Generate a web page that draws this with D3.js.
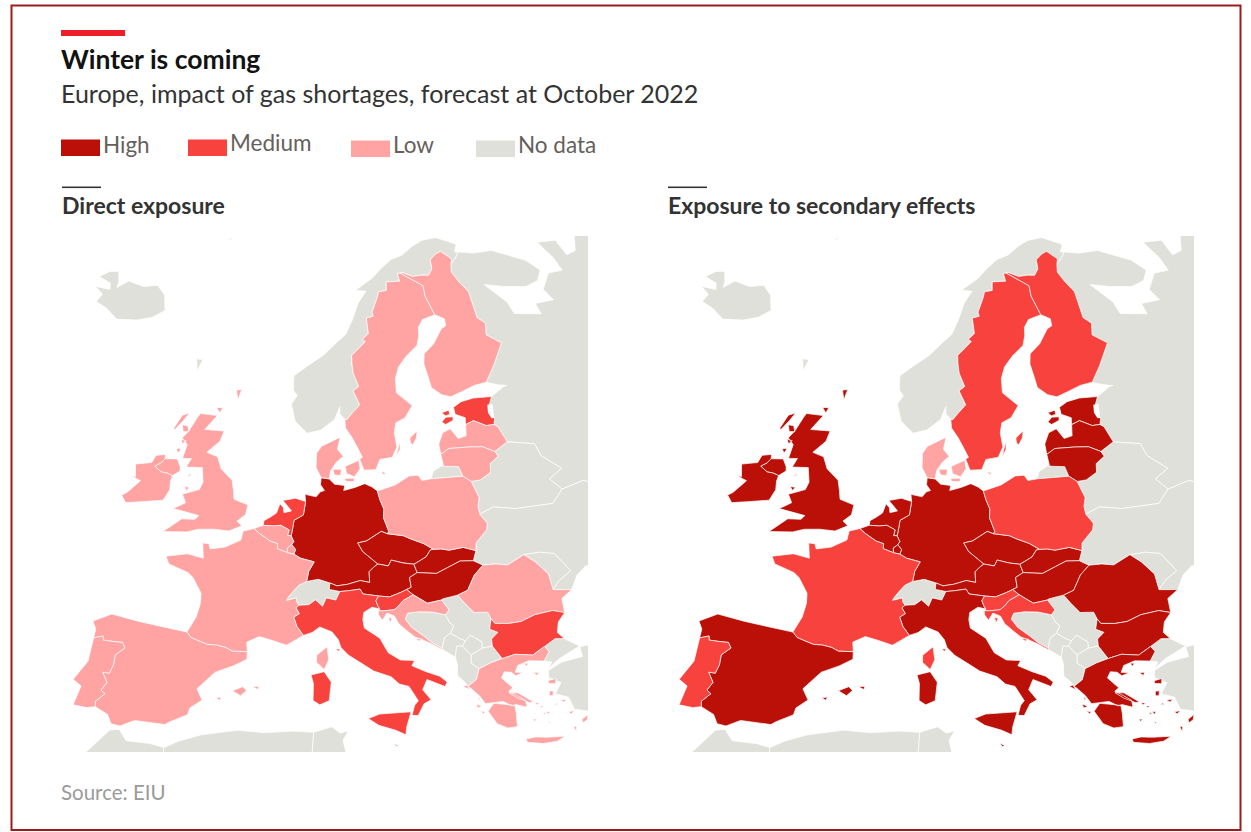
<!DOCTYPE html>
<html>
<head>
<meta charset="utf-8">
<script src="https://cdn.jsdelivr.net/npm/d3@7"></script>
<style>
  html, body { margin: 0; padding: 0; background: #fff; }
  svg { display: block; font-family: Lato, sans-serif; }
  .land { stroke: #fff; stroke-width: 0.7; stroke-linejoin: round; vector-effect: non-scaling-stroke; }
</style>
</head>
<body>
<svg id="chart" width="1251" height="832"></svg>
<script>
// ---- chart values ----
var levelNames = ["High", "Medium", "Low", "No data"];
var levelColors = ["#bb1007", "#f8423d", "#ffa3a3", "#e0e0da"];
var panelTitles = ["Direct exposure", "Exposure to secondary effects"];

var countries = ["Germany", "Czechia", "Austria", "Slovakia", "Hungary", "Netherlands", "Belgium", "Luxembourg", "Italy", "Slovenia", "Croatia", "Estonia", "Latvia", "Lithuania", "Poland", "Romania", "Bulgaria", "Greece", "France", "Spain", "Portugal", "United Kingdom", "Ireland", "Denmark", "Sweden", "Finland", "Malta"];
var directLevels = ["High", "High", "High", "High", "High", "Medium", "Low", "Low", "Medium", "Medium", "Low", "Medium", "Low", "Low", "Low", "Low", "Medium", "Low", "Low", "Low", "Low", "Low", "Low", "Low", "Low", "Low", "Low"];
var secondaryLevels = ["High", "High", "High", "High", "High", "High", "High", "High", "High", "Medium", "Medium", "High", "High", "High", "Medium", "High", "High", "High", "Medium", "High", "Medium", "High", "High", "Low", "Medium", "Medium", "High"];

// ---- shared land borders, lon/lat ----
var FR_ES = [[-1.78,43.37],[-1.38,43.03],[-0.7,42.85],[0,42.68],[0.7,42.7],[1.45,42.6],[2,42.38],[3.17,42.43]];
var ES_PT = [[-8.87,41.87],[-8.2,42.13],[-8.1,41.85],[-7.2,41.9],[-6.6,41.95],[-6.3,41.6],[-6.9,41],[-6.85,40.3],[-7,39.67],[-7.5,39.65],[-7,39],[-7.3,38.4],[-6.95,38.2],[-7.5,37.55],[-7.4,37.18]];
var FR_BE = [[2.55,51.09],[3.1,50.78],[4.15,50.3],[4.85,50.15],[4.85,49.8],[5.8,49.55]];
var FR_LU = [[5.8,49.55],[6.37,49.47]];
var FR_DE = [[6.37,49.47],[7,49.2],[8.2,48.97],[7.75,48.3],[7.6,47.58]];
var FR_CH = [[7.6,47.58],[6.95,47.3],[6.45,46.8],[6.1,46.4],[5.97,46.2],[6.8,46.4],[6.85,46.1],[7.05,45.9]];
var FR_IT = [[7.05,45.9],[6.8,45.7],[7.1,45.3],[6.65,45.05],[6.95,44.4],[7.5,43.78]];
var BE_NL = [[3.37,51.37],[4.3,51.37],[5,51.45],[5.8,51.16],[5.7,50.76],[6.02,50.75]];
var BE_DE = [[6.02,50.75],[6.3,50.35],[6.13,50.13]];
var BE_LU = [[6.13,50.13],[5.75,49.87],[5.8,49.55]];
var LU_DE = [[6.13,50.13],[6.5,49.8],[6.37,49.47]];
var NL_DE = [[6.02,50.75],[6.1,51.15],[6.2,51.85],[7.05,52.25],[7.2,53.2]];
var DE_DK = [[8.65,54.9],[9.45,54.82]];
var DE_PL = [[14.2,53.9],[14.4,53.25],[14.7,52.6],[14.6,52],[15,51],[14.82,50.87]];
var DE_CZ = [[14.82,50.87],[14.3,51.05],[12.9,50.42],[12.1,50.3],[12.5,49.7],[13.8,48.77]];
var DE_AT = [[13.8,48.77],[13.4,48.55],[13,48.25],[13,47.5],[12.2,47.65],[11.1,47.4],[10.2,47.3],[9.6,47.5]];
var DE_CH = [[9.6,47.5],[8.6,47.75],[7.6,47.58]];
var AT_CH = [[9.6,47.5],[9.55,47.05],[10.45,46.9]];
var AT_IT = [[10.45,46.9],[11.2,46.95],[12.15,47.05],[12.4,46.7],[13.7,46.52]];
var AT_SI = [[13.7,46.52],[14.6,46.42],[15.6,46.7],[16.1,46.87]];
var AT_HU = [[16.1,46.87],[16.5,47],[16.45,47.7],[17.15,48]];
var AT_SK = [[17.15,48],[16.95,48.6]];
var AT_CZ = [[16.95,48.6],[16,48.75],[15,49],[14.7,48.6],[13.8,48.77]];
var CZ_SK = [[16.95,48.6],[17.6,48.85],[18.1,49.05],[18.55,49.5],[18.85,49.52]];
var CZ_PL = [[18.85,49.52],[18,50],[16.9,50.4],[16.3,50.65],[14.82,50.87]];
var SK_PL = [[18.85,49.52],[19.5,49.5],[20.2,49.35],[21.5,49.42],[22.55,49.08]];
var SK_UA = [[22.55,49.08],[22.15,48.4]];
var SK_HU = [[17.15,48],[18.8,47.82],[20,48.2],[21,48.5],[22.15,48.4]];
var HU_UA = [[22.15,48.4],[22.9,48]];
var HU_RO = [[22.9,48],[22,47.4],[21.2,46.4],[20.3,46.15]];
var HU_RS = [[20.3,46.15],[19,46],[18.9,45.93]];
var HU_HR = [[18.9,45.93],[17.7,45.8],[16.6,46.47]];
var HU_SI = [[16.6,46.47],[16.1,46.87]];
var SI_HR = [[16.6,46.47],[15.7,46.1],[15.3,45.75],[14.9,45.5],[14.1,45.47],[13.6,45.48]];
var SI_IT = [[13.7,46.52],[13.45,46.2],[13.6,45.8],[13.75,45.6]];
var IT_CH = [[10.45,46.9],[10.1,46.3],[9.3,46.45],[9,45.85],[8.4,46.3],[7.85,45.95],[7.05,45.9]];
var HR_RS = [[18.9,45.93],[19.4,45.2],[19.05,44.87]];
var HR_BA = [[19.05,44.87],[18,45.15],[16.9,45.25],[16,45.2],[15.75,44.8],[16.2,44.2],[17.2,43.45],[17.7,43],[18.45,42.55]];
var HR_ME = [[18.45,42.55],[18.5,42.43]];
var RO_UA_N = [[22.9,48],[24,47.95],[25,47.75],[26.6,48.25]];
var RO_MD = [[26.6,48.25],[27.4,47.6],[28.2,46.6],[28.2,45.47]];
var RO_UA_S = [[28.2,45.47],[29.7,45.2]];
var RO_BG = [[28.6,43.75],[27.7,44.05],[26.2,44],[25,43.7],[24,43.7],[22.9,43.85],[22.67,44.2]];
var RO_RS = [[22.67,44.2],[22.5,44.7],[21.4,44.8],[20.8,45.5],[20.3,46.15]];
var BG_RS = [[22.67,44.2],[22.4,43.5],[23,43.2],[22.4,42.8],[22.36,42.3]];
var BG_MK = [[22.36,42.3],[22.93,41.34]];
var BG_GR = [[22.93,41.34],[24,41.5],[25.3,41.25],[26.35,41.7]];
var BG_TR = [[26.35,41.7],[27.3,42.1],[28,41.98]];
var GR_TR = [[26.35,41.7],[26.6,41.3],[26.05,40.7]];
var GR_AL = [[20,39.7],[20.7,40.1],[21.05,40.85]];
var GR_MK = [[21.05,40.85],[22,41.15],[22.93,41.34]];
var BA_RS = [[19.05,44.87],[19.3,44.3],[19.6,44.05],[19.25,43.55]];
var BA_ME = [[19.25,43.55],[18.7,43.25],[18.45,42.55]];
var ME_RS = [[19.25,43.55],[19.9,43.1],[20.35,42.9]];
var ME_XK = [[20.35,42.9],[20.05,42.55]];
var ME_AL = [[20.05,42.55],[19.6,42.6],[19.37,41.85]];
var XK_RS = [[20.35,42.9],[20.8,43.25],[21.6,42.7],[21.55,42.25]];
var XK_MK = [[21.55,42.25],[20.6,41.87]];
var XK_AL = [[20.6,41.87],[20.05,42.55]];
var RS_MK = [[21.55,42.25],[22.36,42.3]];
var MK_AL = [[20.6,41.87],[20.5,41.3],[21.05,40.85]];
var PL_UA = [[22.55,49.08],[22.7,49.6],[23.9,50.4],[24.1,50.85],[23.6,51.55]];
var PL_BY = [[23.6,51.55],[23.6,52.1],[23.9,52.7],[23.5,53.9]];
var PL_LT = [[23.5,53.9],[22.8,54.35]];
var PL_RU = [[22.8,54.35],[19.65,54.45]];
var LT_RU = [[22.8,54.35],[22.6,55.05],[21.3,55.2],[20.95,55.28]];
var LT_BY = [[23.5,53.9],[24.4,53.9],[25.6,54.3],[25.8,54.9],[26.8,55.3],[26.6,55.67]];
var LT_LV = [[26.6,55.67],[25.5,56.15],[24,56.3],[22,56.4],[21.05,56.07]];
var LV_BY = [[26.6,55.67],[28.15,56.15]];
var LV_RU = [[28.15,56.15],[27.7,57.3],[27.35,57.52]];
var LV_EE = [[27.35,57.52],[26.5,57.55],[25.3,58.05],[24.35,57.87]];
var EE_RU = [[27.35,57.52],[27.6,57.9],[27.5,58.3],[27.5,58.9],[28.05,59.45]];
var BY_UA = [[23.6,51.55],[25,51.9],[27,51.5],[30.5,51.3],[31.8,52.1]];
var BY_RU = [[31.8,52.1],[31,53],[32.5,53.5],[31,54.7],[30.8,55.6],[28.15,56.15]];
var UA_RU = [[31.8,52.1],[34,52.3],[40,49.5],[38,47]];
var MD_UA = [[26.6,48.25],[28,48.2],[29.2,47.9],[30.1,46.5],[28.9,46],[28.2,45.47]];
var FI_RU = [[28,60.5],[29.5,61.5],[31.5,62.9],[30,63.7],[30.5,64.5],[29.7,65],[29.9,66.9],[29.1,67.7],[28.5,68.5],[28.9,69.05]];
var FI_NO = [[28.9,69.05],[29.3,69.4],[28,70.08],[27,69.95],[25.9,69.65],[25.7,69],[24.9,68.6],[23.7,68.7],[22.4,68.7],[21,69.05],[20.55,69.06]];
var FI_SE = [[20.55,69.06],[23.6,67.95],[23.5,67.2],[24.15,65.8]];
var SE_NO = [[20.55,69.06],[20.1,69.05],[20.2,68.5],[18.1,68.55],[17.9,67.95],[16.7,67.9],[16.4,67.5],[15.4,66.5],[15.5,66.2],[14.5,66.1],[14.6,65],[13.7,64.6],[14.1,64.45],[13.2,64],[12.2,63.5],[12.2,62.9],[12.3,62.25],[12.9,61.3],[12.2,61],[12.9,60],[11.8,59.3],[11.4,59],[11.15,59]];
var NO_RU = [[28.9,69.05],[30,69.4],[30.8,69.75]];
var IE_UK = [[-6.1,54],[-6.7,54.1],[-7.3,54.1],[-8.1,54.4],[-7.6,54.7],[-7.3,55.05]];

// ---- coasts, lon/lat ----
var frCoastAtl = [[2.55,51.09],[1.6,50.85],[1.5,50.2],[0.2,49.6],[-1.1,49.35],[-1.3,49.7],[-1.85,49.7],[-1.55,48.65],[-3,48.8],[-4.8,48.4],[-4.4,47.9],[-2.6,47.5],[-2.1,47.2],[-1.2,46.2],[-1.1,45.5],[-1.25,44.5],[-1.78,43.37]];
var frCoastMed = [[3.17,42.43],[3.05,43.1],[4,43.55],[5,43.35],[6.2,43.05],[7.5,43.78]];
var esCoastN = [[-8.87,41.87],[-8.9,42.5],[-9.3,43],[-8,43.75],[-5.8,43.6],[-3.8,43.5],[-1.78,43.37]];
var esCoastS = [[3.17,42.43],[3.2,41.9],[2.2,41.35],[0.9,40.8],[-0.3,39.5],[0.2,38.75],[-0.6,38.1],[-0.7,37.6],[-1.9,36.95],[-2.2,36.72],[-4.4,36.7],[-5.35,36.15],[-6,36.2],[-6.4,36.8],[-7.4,37.18]];
var ptCoast = [[-7.4,37.18],[-8,37],[-9,37],[-8.8,38.4],[-9.5,38.75],[-8.8,40.2],[-8.87,41.87]];
var nlCoast = [[7.2,53.2],[6.2,53.4],[5,53.2],[5.4,52.9],[5.9,52.5],[5.2,52.35],[5.1,52.7],[4.75,52.95],[4.5,52.3],[4,52],[3.4,51.7],[3.37,51.37]];
var deCoastN = [[7.2,53.2],[7.1,53.7],[8.2,53.55],[8.6,53.9],[9,54],[8.6,54.4],[8.65,54.9]];
var deCoastB = [[9.45,54.82],[10,54.45],[11,54.35],[10.9,54],[12,54.2],[13,54.45],[13.7,54.2],[14.2,53.9]];
var itCoast = [[13.75,45.6],[13.1,45.75],[12.4,45.4],[12.3,44.9],[12.4,44.3],[13.6,43.55],[14.2,42.5],[15.1,41.95],[16.2,41.85],[15.95,41.5],[17,41],[18,40.6],[18.5,40.15],[18.3,39.85],[17,40.45],[16.6,39.75],[17.15,39],[16.6,38.75],[16.1,37.95],[15.65,38],[15.9,38.7],[16.2,39],[15.6,40.05],[14.9,40.25],[14.3,40.8],[13,41.25],[12.2,41.75],[11.1,42.4],[10.5,42.95],[10.3,43.5],[9.8,44.05],[8.8,44.4],[8.2,44],[7.5,43.78]];
var hrCoast = [[13.6,45.48],[13.6,45.2],[13.9,44.8],[14.3,45.3],[14.9,45.05],[15.2,44.5],[15.9,43.9],[16.4,43.5],[17.1,43.2],[17.6,42.95],[18.1,42.65],[18.5,42.43]];
var alCoast = [[19.37,41.85],[19.45,41.3],[19.35,40.5],[19.8,40.05],[20,39.7]];
var grCoast = [[26.05,40.7],[24.9,40.9],[24,40.7],[23.7,40.25],[24.3,40.15],[23.7,40],[23.4,40.3],[22.9,40.4],[22.6,40],[23.3,39.2],[22.95,39],[23.4,38.7],[24.05,38.2],[24.05,37.7],[23.3,38],[23,37.95],[22.4,38.35],[21.5,38.35],[21.1,38.35],[20.75,38.95],[20.2,39.55],[20,39.7]];
var roCoast = [[29.7,45.2],[28.7,44.75],[28.6,43.75]];
var bgCoast = [[28,41.98],[27.6,42.5],[27.9,43.2],[28.6,43.75]];
var plCoast = [[14.2,53.9],[16,54.25],[17.5,54.8],[18.4,54.8],[18.7,54.4],[19.65,54.45]];
var ltCoast = [[21.05,56.07],[21.1,55.3],[20.95,55.28]];
var lvCoast = [[24.35,57.87],[24.1,57.1],[23.2,57],[22.6,57.75],[21.7,57.55],[21.05,56.8],[21.05,56.07]];
var eeCoast = [[28.05,59.45],[26,59.6],[24.5,59.5],[23.5,59.2],[23.5,58.7],[24.5,58.35],[24.35,57.87]];
var fiCoast = [[24.15,65.8],[25.3,65.4],[25.2,64.9],[24.5,64.75],[23,63.8],[21.5,63.2],[21.2,62.5],[21.4,61.5],[21.5,60.8],[22.5,60.2],[23.5,59.95],[25,60.2],[26.5,60.45],[28,60.5]];
var seCoast = [[11.15,59],[11.2,58.4],[11.9,57.7],[12.5,56.9],[12.9,56.3],[12.6,56.2],[13,55.4],[14.2,55.4],[14.3,55.55],[14.7,56.1],[16,56.2],[16.6,56.9],[16.5,57.9],[16.8,58.6],[17.9,58.9],[18.9,59.7],[17.3,60.7],[17.4,61.7],[18,62.5],[19.2,63.2],[20.8,63.85],[21.3,64.5],[21.5,65.1],[22.3,65.6],[24.15,65.8]];
var noCoast = [[11.15,59],[10.6,59.4],[10.6,59.9],[10,59],[8.5,58.25],[7,58],[5.6,58.8],[5,60],[5.6,60.6],[5.1,61],[5,62],[6.5,62.7],[8.5,63.5],[10,64.3],[11.5,65],[12.5,66],[13.5,67.2],[14.8,68],[13.2,68.1],[16,68.9],[17.5,69.5],[19.5,70.1],[21.5,70.3],[23.5,70.8],[25.5,71.1],[28,71.1],[31,70.3],[30.2,69.8],[30.8,69.75]];
var ruCoastN = [[30.8,69.75],[33,69.4],[36,69.2],[40,67.8],[41.2,66.8],[40,66.2],[38,66.1],[35,66.6],[32.5,67.1],[34.5,65.5],[34.7,64.6],[38,64],[38,64.8],[40.5,64.6],[40,65.5],[42,66.4],[44,66.2],[44,67.2],[43.3,68.6],[46,68.2],[46,67],[47.5,67],[50,68.5],[60,70],[60,40]];
var uaCoast = [[38,47],[35,46],[33,46],[31.5,46.6],[30.5,46.1],[29.7,45.2]];
var ieCoast = [[-7.3,55.05],[-7.4,55.35],[-8.3,55.15],[-8.5,54.6],[-10,54.25],[-9.6,53.4],[-10.1,53.4],[-9,53.2],[-9.9,52.2],[-10.3,51.95],[-9.7,51.5],[-8.3,51.8],[-6.35,52.2],[-6,53],[-6.15,53.6],[-6.1,54]];
var niCoast = [[-6.1,54],[-5.5,54.4],[-5.6,54.7],[-6.1,55.2],[-7.3,55.05]];

var rev = function (a) { return a.slice().reverse(); };
var chain = function () { return Array.prototype.concat.apply([], arguments); };

// ---- country outlines as lists of rings ----
var outlines = {
  "Germany": [chain(deCoastN, DE_DK, deCoastB, DE_PL, DE_CZ, DE_AT, DE_CH, rev(FR_DE), rev(LU_DE), rev(BE_DE), NL_DE)],
  "France": [chain(frCoastAtl, FR_ES, frCoastMed, rev(FR_IT), rev(FR_CH), rev(FR_DE), rev(FR_LU), rev(FR_BE)),
    [[9.4,43],[9.55,42.1],[9.2,41.4],[8.6,41.9],[8.6,42.4]]],
  "Spain": [chain(esCoastN, FR_ES, esCoastS, rev(ES_PT)),
    [[2.35,39.6],[3.1,39.95],[3.4,39.7],[3,39.3]], [[3.8,40],[4.3,40.05],[4.25,39.82]], [[1.2,39],[1.6,39.1],[1.5,38.85]]],
  "Portugal": [chain(ES_PT, ptCoast)],
  "Belgium": [chain([[2.55,51.09],[3.37,51.37]], BE_NL, BE_DE, BE_LU, rev(FR_BE))],
  "Luxembourg": [chain(rev(BE_LU), LU_DE, rev(FR_LU))],
  "Netherlands": [chain(NL_DE, nlCoast, BE_NL)],
  "Switzerland": [chain(DE_CH, FR_CH, rev(IT_CH), rev(AT_CH))],
  "Austria": [chain(AT_CH, AT_IT, AT_SI, AT_HU, AT_SK, AT_CZ, DE_AT)],
  "Czechia": [chain(rev(AT_CZ), CZ_SK, CZ_PL, DE_CZ)],
  "Slovakia": [chain(rev(AT_SK), SK_HU, rev(SK_UA), rev(SK_PL), rev(CZ_SK))],
  "Hungary": [chain(rev(SK_HU), rev(AT_HU), rev(HU_SI), rev(HU_HR), rev(HU_RS), rev(HU_RO), rev(HU_UA))],
  "Slovenia": [chain(SI_IT, SI_HR.slice().reverse(), HU_SI, rev(AT_SI))],
  "Croatia": [chain(SI_HR, hrCoast, rev(HR_ME), rev(HR_BA), rev(HR_RS), HU_HR),
    [[16.4,43.4],[17,43.3],[16.7,43.2]], [[14.4,45],[14.7,44.9],[14.5,44.6]]],
  "Italy": [chain(rev(FR_IT), rev(IT_CH), AT_IT, SI_IT, itCoast),
    [[12.45,37.9],[13.3,38.2],[15.6,38.25],[15.2,37.2],[15.1,36.65],[14.4,37],[13.2,37.4]],
    [[8.2,41],[9.2,41.25],[9.75,40.5],[9.6,39.2],[8.9,38.9],[8.4,39.2],[8.4,40.4]],
    [[10.1,42.85],[10.45,42.85],[10.3,42.7]]],
  "Romania": [chain(RO_RS, rev(HU_RO), RO_UA_N, RO_MD, RO_UA_S, roCoast, RO_BG)],
  "Bulgaria": [chain(rev(RO_BG), rev(bgCoast), rev(BG_TR), rev(BG_GR), rev(BG_MK), rev(BG_RS))],
  "Greece": [chain(BG_GR, GR_TR, grCoast, GR_AL, GR_MK),
    [[23.2,37.95],[22.4,38.15],[21.7,38.3],[21.2,37.8],[21.7,36.85],[22.4,36.45],[23.1,36.45],[23.2,37.4]],
    [[23.55,35.5],[24.2,35.55],[25,35.4],[26.3,35.25],[25.7,35],[24.7,35],[23.6,35.25]],
    [[22.95,38.9],[23.6,38.8],[24.6,38],[24.3,38],[23.5,38.45]],
    [[26,39.3],[26.6,39.35],[26.5,39],[26,39.1]], [[25.9,38.55],[26.2,38.55],[26.1,38.2],[25.85,38.25]],
    [[26.55,37.8],[27,37.8],[26.8,37.62]], [[25.05,40.02],[25.45,40],[25.3,39.78]], [[24.55,40.8],[24.85,40.72],[24.6,40.55]],
    [[27.75,36.2],[28.25,36.45],[28.1,36.1],[27.75,35.95]], [[27.05,35.8],[27.25,35.8],[27.15,35.4]], [[26.9,36.9],[27.35,36.9],[27.1,36.72]],
    [[25.35,37.2],[25.6,37.15],[25.5,36.95]], [[25.15,37.15],[25.3,37.1],[25.15,36.98]], [[24.7,37.95],[25,37.85],[24.8,37.75]], [[25,37.65],[25.25,37.6],[25.1,37.5]],
    [[24.3,36.8],[24.55,36.78],[24.4,36.63]], [[25.35,36.45],[25.5,36.4],[25.4,36.33]], [[26.25,37.65],[26.35,37.55],[26.05,37.55]],
    [[19.65,39.75],[19.95,39.8],[20.1,39.45]], [[20.4,38.4],[20.8,38.2],[20.5,38.1]], [[20.65,37.88],[20.98,37.78],[20.85,37.65]], [[20.6,38.82],[20.75,38.8],[20.65,38.6]]],
  "Estonia": [chain(LV_EE, rev(eeCoast), rev(EE_RU)),
    [[21.85,58.3],[22.4,58.6],[23.2,58.55],[23.1,58.3],[22.2,58.1]], [[22.05,58.95],[22.9,59.05],[22.9,58.75],[22.4,58.7]]],
  "Latvia": [chain(LT_LV, rev(lvCoast), rev(LV_EE), rev(LV_RU), rev(LV_BY))],
  "Lithuania": [chain(PL_LT, LT_RU, rev(ltCoast), rev(LT_LV), rev(LT_BY))],
  "Poland": [chain(plCoast, rev(PL_RU), rev(PL_LT), rev(PL_BY), rev(PL_UA), rev(SK_PL), CZ_PL, rev(DE_PL))],
  "Denmark": [chain([[9.45,54.82],[9.6,55.4],[10.2,56],[10.9,56.4],[10.3,56.9],[10.6,57.75],[8.6,57.1],[8.1,56.6],[8.1,55.6],[8.65,54.9]], DE_DK),
    [[11.1,55.7],[12.5,56.1],[12.6,55.5],[12,54.95],[11.2,55.2]], [[9.8,55.5],[10.7,55.5],[10.6,55.05],[10,55.1]], [[11,54.85],[12,54.85],[11.9,54.6],[11.1,54.65]], [[14.7,55.25],[15.15,55.15],[15,54.98]]],
  "Sweden": [chain(rev(FI_SE), SE_NO, seCoast),
    [[18.1,57.45],[19,57.9],[18.8,57.4],[18.3,56.95],[18.1,57.1]], [[16.4,56.2],[17,57.3],[16.9,56.7]]],
  "Finland": [chain(fiCoast, FI_RU, FI_NO, FI_SE)],
  "Norway": [chain(noCoast, rev(NO_RU), FI_NO, SE_NO)],
  "Ireland": [chain(IE_UK, ieCoast)],
  "United Kingdom": [chain(rev(IE_UK), niCoast),
    [[-5,58.6],[-3.1,58.65],[-4.1,57.55],[-2,57.65],[-2.2,56.9],[-3.3,56],[-2.1,55.8],[-1.5,55],[-0.2,54.3],[0.1,53.6],[0.3,53],[1.7,52.7],[1.6,52],[0.9,51.5],[1.4,51.2],[0.3,50.75],[-1.1,50.75],[-2.5,50.6],[-3.5,50.3],[-5.6,50.05],[-4.2,51.15],[-3,51.25],[-2.7,51.55],[-5.2,51.75],[-4.2,52.3],[-4.7,52.85],[-3.2,53.35],[-3,53.9],[-3.4,54.9],[-5,54.75],[-4.7,55.4],[-5.6,55.3],[-5.5,56.3],[-6.2,56.7],[-5.7,57.3],[-5.2,58.3]],
    [[-6.2,58.5],[-6.9,58.25],[-7.4,57.2],[-7.2,57.2],[-6.6,57.9]], [[-6.6,57.6],[-6,57.6],[-5.7,57.2],[-6.3,57.15]], [[-6.3,56.6],[-5.7,56.55],[-6,56.3]], [[-6.5,55.9],[-6,55.95],[-6.2,55.6]],
    [[-3.4,59.2],[-2.7,59.25],[-2.9,58.85]], [[-1.6,60.6],[-1,60.7],[-1.2,59.95]], [[-4.7,53.4],[-4.2,53.4],[-4.4,53.15]]],
  "Malta": [[[14.2,36.1],[14.55,35.9],[14.35,35.85]]],
  "Iceland": [[[-22.4,66.45],[-23.5,66.2],[-24.4,65.6],[-22.5,65.5],[-22,65.1],[-24,64.9],[-22.5,64.6],[-22.7,64],[-21,63.85],[-19,63.4],[-16.5,63.8],[-14.8,64.3],[-13.6,65],[-14.6,66],[-16.2,66.5],[-18,66.1],[-20.3,66.1],[-21.3,65.4],[-21.5,65.8]]],
  "Faroes": [[[-7.3,62.3],[-6.5,62.3],[-6.8,61.5]]],
  "Jan Mayen": [[[-9,70.85],[-8,71.15],[-8.4,70.9]]],
  "Isle of Man": [[[-4.8,54.1],[-4.4,54.4],[-4.3,54.2]]],
  "Russia": [chain(ruCoastN, [[60,40]], rev(uaCoast.slice(0, 1)), rev(UA_RU), BY_RU, LV_RU, EE_RU, [[29.8,59.95],[30.2,59.95],[29,60.2]], FI_RU, NO_RU)],
  "Kaliningrad": [chain(PL_RU, [[19.95,54.95]], rev(LT_RU))],
  "Belarus": [chain(PL_BY, LT_BY, LV_BY, rev(BY_RU), rev(BY_UA))],
  "Ukraine": [chain(PL_UA, BY_UA, UA_RU, uaCoast, rev(RO_UA_S), rev(MD_UA), rev(RO_UA_N), rev(HU_UA), rev(SK_UA))],
  "Moldova": [chain(RO_MD, rev(MD_UA))],
  "Serbia": [chain(HU_RS, HR_RS, BA_RS, ME_RS, XK_RS, RS_MK, rev(BG_RS), RO_RS)],
  "Bosnia": [chain(HR_BA, rev(BA_ME), rev(BA_RS))],
  "Montenegro": [chain(HR_ME, [[19,42.1]], rev(ME_AL), rev(ME_XK), rev(ME_RS), BA_ME)],
  "Kosovo": [chain(ME_XK, rev(XK_AL), rev(XK_MK), rev(XK_RS))],
  "North Macedonia": [chain(XK_MK, MK_AL, GR_MK, rev(BG_MK), rev(RS_MK))],
  "Albania": [chain(ME_AL, alCoast, GR_AL, rev(MK_AL), XK_AL)],
  "Turkey": [chain(rev(GR_TR), BG_TR, [[29,41.25],[28.2,41],[27.3,40.7],[26.7,40.4],[26.2,40.05],[26.6,40.55]]),
    [[29,41.2],[31,41.2],[33,42],[36,41.5],[36,36],[30.5,36.3],[29.5,36.2],[28.3,36.7],[27.4,37],[27.2,37.9],[26.3,38.3],[26.9,39],[26.1,39.5],[26.2,40],[27.3,40.4],[29,40.5]]],
  "Morocco": [[[-7.5,33.6],[-6,35.75],[-5.35,35.9],[-4.7,35.2],[-3,35.25],[-2,35.1],[-1.8,33]]],
  "Algeria": [[[-1.8,33],[-2,35.1],[-1,35.7],[0.5,36.3],[3,36.85],[5,36.8],[7,37],[8.5,36.95],[8.3,33]]],
  "Tunisia": [[[8.3,33],[8.5,36.95],[9.8,37.35],[10.4,36.9],[11,37.05],[10.6,36.4],[10.8,35.5],[11,33]]]
};
var lakes = [[[27.3,58.95],[27.9,58.95],[27.7,58.3],[27.6,57.95],[27.3,57.98],[27.1,58.4]]];

var noDataLand = Object.keys(outlines).filter(function (n) { return countries.indexOf(n) < 0; });

// ---- layout ----
var svg = d3.select("#chart");
svg.append("rect").attr("x", 11.5).attr("y", 5.5).attr("width", 1229).attr("height", 824.5)
  .attr("fill", "#fff").attr("stroke", "#9c1c1c").attr("stroke-width", 2);

svg.append("rect").attr("x", 61).attr("y", 30).attr("width", 64).attr("height", 6).attr("fill", "#ee2027");
svg.append("text").attr("x", 61).attr("y", 69).attr("font-size", 26.5).attr("font-weight", 700).attr("fill", "#121212").text("Winter is coming");
svg.append("text").attr("x", 61).attr("y", 103).attr("font-size", 25).attr("fill", "#333").text("Europe, impact of gas shortages, forecast at October 2022");

var legendX = [61, 188, 351, 476];
var legendY = [139.5, 139.5, 140.5, 140.5];
var legendBase = [153, 151, 153, 153];
var levelColor = d3.scaleOrdinal().domain(levelNames).range(levelColors);
levelNames.forEach(function (name, i) {
  svg.append("rect").attr("x", legendX[i]).attr("y", legendY[i]).attr("width", 39).attr("height", 16.5).attr("fill", levelColor(name));
  svg.append("text").attr("x", legendX[i] + 42).attr("y", legendBase[i]).attr("font-size", 22.5).attr("fill", "#66605c").text(name);
});

svg.append("text").attr("x", 61).attr("y", 800).attr("font-size", 20.5).attr("fill", "#9a9a9a").text("Source: EIU");

// ---- maps ----
// Lambert equal-area on 10E 52N; the source map is wider than it is tall, hence the x stretch
var projection = d3.geoAzimuthalEqualArea().rotate([-10, -52]).scale(815).translate([0, 0]).precision(0.3);
var path = d3.geoPath(projection);

function toFeature(name, rings) {
  var polys = rings.map(function (ring) {
    var r = ring.slice();
    // d3 wants small rings wound clockwise, otherwise the polygon covers the globe
    if (d3.geoArea({type: "Polygon", coordinates: [r.concat([r[0]])]}) > 2 * Math.PI) r.reverse();
    return [r.concat([r[0]])];
  });
  return {type: "Feature", properties: {name: name}, geometry: {type: "MultiPolygon", coordinates: polys}};
}

var panelX = [0, 606];
var panelLevels = [directLevels, secondaryLevels];
var defs = svg.append("defs");

panelTitles.forEach(function (title, p) {
  var ox = panelX[p];
  svg.append("rect").attr("x", 62 + ox).attr("y", 186.5).attr("width", 39).attr("height", 1.6).attr("fill", "#333");
  svg.append("text").attr("x", 62 + ox).attr("y", 214).attr("font-size", 23).attr("font-weight", 700).attr("fill", "#333").text(title);

  defs.append("clipPath").attr("id", "clip" + p).append("rect")
    .attr("x", 62 + ox).attr("y", 236).attr("width", 526).attr("height", 516);

  var levelOf = d3.scaleOrdinal().domain(countries).range(panelLevels[p]);
  var names = noDataLand.concat(countries);

  var g = svg.append("g").attr("clip-path", "url(#clip" + p + ")")
    .append("g").attr("transform", "translate(" + (334.6 + ox) + ",519) scale(1.215,1)");

  g.selectAll("path.land")
    .data(names.map(function (n) { return toFeature(n, outlines[n]); }))
    .enter()
    .append("path")
    .attr("class", "land")
    .attr("d", path)
    .attr("fill", function (d) {
      var n = d.properties.name;
      return levelColor(countries.indexOf(n) < 0 ? "No data" : levelOf(n));
    });

  g.selectAll("path.lake")
    .data(lakes.map(function (l, i) { return toFeature("lake" + i, [l]); }))
    .enter()
    .append("path")
    .attr("class", "lake")
    .attr("d", path)
    .attr("fill", "#fff");
});
</script>
</body>
</html>
